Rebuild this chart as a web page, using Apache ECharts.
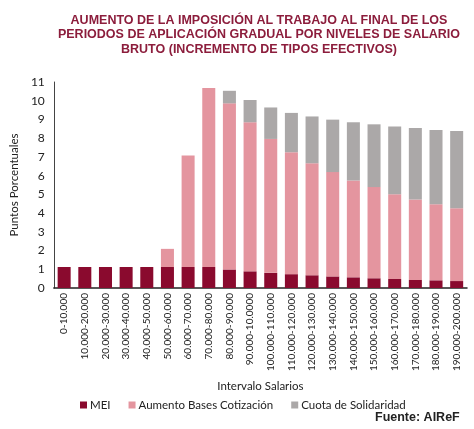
<!DOCTYPE html>
<html><head><meta charset="utf-8">
<script src="https://cdn.jsdelivr.net/npm/echarts@6/dist/echarts.min.js"></script>
<style>html,body{margin:0;padding:0;background:#fff}#c{width:474px;height:429px}</style>
</head><body><div id="c"></div>
<script>
const categories = ["0-10.000","10.000-20.000","20.000-30.000","30.000-40.000","40.000-50.000","50.000-60.000","60.000-70.000","70.000-80.000","80.000-90.000","90.000-10.0000","100.000-110.000","110.000-120.000","120.000-130.000","130.000-140.000","140.000-150.000","150.000-160.000","160.000-170.000","170.000-180.000","180.000-190.000","190.000-200.000"];
const mei = [1.12,1.12,1.12,1.12,1.12,1.12,1.12,1.12,0.99,0.89,0.81,0.74,0.68,0.62,0.57,0.52,0.48,0.43,0.41,0.37];
const aumentoBases = [0,0,0,0,0,0.97,5.95,9.56,8.87,7.96,7.15,6.51,5.98,5.57,5.17,4.87,4.52,4.30,4.06,3.89];
const cuotaSolidaridad = [0,0,0,0,0,0,0,0,0.67,1.19,1.68,2.10,2.50,2.80,3.11,3.35,3.63,3.82,3.97,4.13];
const yTicks = {min:0, max:11, interval:1};

const chart = echarts.init(document.getElementById('c'));
const font = 'Lato, "Open Sans", sans-serif';
chart.setOption({
  animation:false,
  title:[{
    text:'AUMENTO DE LA IMPOSICIÓN AL TRABAJO AL FINAL DE LOS\nPERIODOS DE APLICACIÓN GRADUAL POR NIVELES DE SALARIO\nBRUTO (INCREMENTO DE TIPOS EFECTIVOS)',
    left:254, top:8, textAlign:'center',
    textStyle:{fontFamily:'"Liberation Sans", Arial, sans-serif', fontWeight:'bold', fontSize:12.5, lineHeight:14.5, color:'#8C1D3C'}
  },{
    text:'Fuente: AIReF', left:370, top:406,
    textStyle:{fontFamily:'"Liberation Sans", Arial, sans-serif', fontWeight:'bold', fontSize:12.5, color:'#222'}
  }],
  legend:{
    left:75, top:394, itemWidth:7, itemHeight:7, itemGap:18,
    icon:'rect',
    textStyle:{fontFamily:font, fontSize:11.5, color:'#222', padding:[0,0,0,-2]},
    data:['MEI','Aumento Bases Cotización','Cuota de Solidaridad']
  },
  grid:{left:42, right:7, top:82, bottom:141},
  xAxis:{
    type:'category', data:categories,
    name:'Intervalo Salarios', nameLocation:'middle', nameGap:92,
    nameTextStyle:{fontFamily:font, fontSize:11.5, color:'#222'},
    axisLine:{lineStyle:{color:'#222', width:1.5}},
    axisTick:{show:false},
    axisLabel:{rotate:90, interval:0, fontFamily:font, fontSize:10, color:'#222', margin:5}
  },
  yAxis:{
    type:'value', min:yTicks.min, max:yTicks.max, interval:yTicks.interval,
    name:'Puntos Porcentuales', nameLocation:'middle', nameGap:30,
    nameTextStyle:{fontFamily:font, fontSize:11.5, color:'#222'},
    axisLine:{show:true, lineStyle:{color:'#444', width:1}},
    axisTick:{show:false},
    splitLine:{show:false},
    axisLabel:{fontFamily:font, fontSize:12, color:'#222', margin:9}
  },
  series:[
    {name:'MEI', type:'bar', stack:'t', data:mei, barCategoryGap:'37%', itemStyle:{color:'#8A0A2E'}},
    {name:'Aumento Bases Cotización', type:'bar', stack:'t', data:aumentoBases, itemStyle:{color:'#E4959F'}},
    {name:'Cuota de Solidaridad', type:'bar', stack:'t', data:cuotaSolidaridad, itemStyle:{color:'#ABA8A8'}}
  ]
});
</script></body></html>
